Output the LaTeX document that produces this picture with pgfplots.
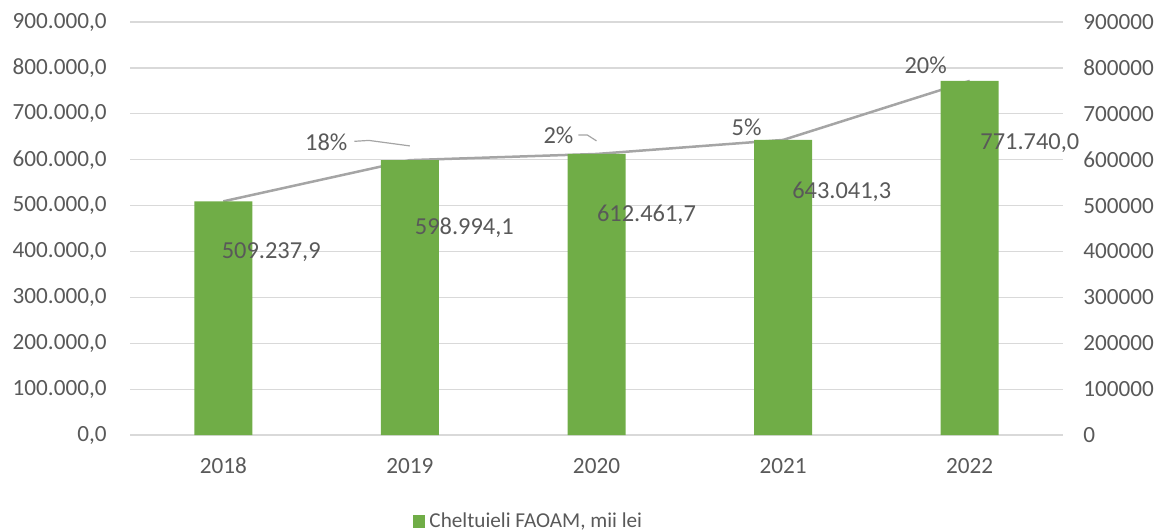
\documentclass[border=0pt]{standalone}
\usepackage{pgfplots}
\pgfplotsset{compat=1.18}
\usepackage{fontspec}
\setmainfont{Carlito}
\definecolor{barGreen}{HTML}{70AD47}
\definecolor{lineGray}{HTML}{A5A5A5}
\definecolor{txtGray}{HTML}{595959}
\definecolor{gridGray}{HTML}{D9D9D9}
\begin{document}
\begin{tikzpicture}
\useasboundingbox (-65pt,-47.5pt) rectangle (515pt,217.5pt);
\pgfplotsset{
  common/.style={
    width=466.5pt, height=206.5pt, scale only axis,
    at={(0,0)}, anchor=south west,
    xmin=-0.5, xmax=4.5, ymin=0, ymax=900000,
    ytick={0,100000,...,900000},
    scaled y ticks=false,
    major tick length=0pt,
    tick label style={font=\fontsize{11.6}{14}\selectfont, text=txtGray},
    clip=false,
  }
}
\begin{axis}[common,
  axis line style={draw=none},
  ymajorgrids, grid style={color=gridGray, line width=0.6pt},
  xtick={0,1,2,3,4},
  xticklabels={2018,2019,2020,2021,2022},
  xticklabel style={yshift=-8pt},
  yticklabels={{0,0},{100.000,0},{200.000,0},{300.000,0},{400.000,0},{500.000,0},{600.000,0},{700.000,0},{800.000,0},{900.000,0}},
  yticklabel style={inner sep=0pt, xshift=-11.5pt, anchor=east},
  legend style={at={(0.303,-0.21)}, anchor=west, draw=none, fill=none,
    font=\fontsize{10.6}{13}\selectfont, text=txtGray, inner sep=0pt},
  legend image code/.code={\fill[barGreen] (0pt,-3.2pt) rectangle (6.2pt,3.2pt);},
]
\addplot[color=lineGray, line width=1.25pt, forget plot] coordinates {(0,509237.9) (1,598994.1) (2,612461.7) (3,643041.3) (4,771740.0)};
\addplot[ybar, bar width=29pt, fill=barGreen, draw=none] coordinates {(0,509237.9) (1,598994.1) (2,612461.7) (3,643041.3) (4,771740.0)};
\addlegendentry{Cheltuieli FAOAM, mii lei}
% value labels
\begin{scope}[every node/.style={font=\fontsize{12.2}{14}\selectfont, text=txtGray, inner sep=0pt}]
\node at (axis cs:0.257,398800) {509.237,9};
\node at (axis cs:1.292,451000) {598.994,1};
\node at (axis cs:2.268,479400) {612.461,7};
\node at (axis cs:3.314,529500) {643.041,3};
\node at (axis cs:4.322,636300) {771.740,0};
\node at (axis cs:0.552,638500) {18\%};
\node at (axis cs:1.796,653800) {2\%};
\node at (axis cs:2.804,671000) {5\%};
\node at (axis cs:3.764,806000) {20\%};
\end{scope}
\draw[lineGray, line width=0.6pt] (axis cs:0.702,640000) -- (axis cs:0.78,642000) -- (axis cs:1.0,630000);
\draw[lineGray, line width=0.6pt] (axis cs:1.903,653800) -- (axis cs:1.95,654000) -- (axis cs:2.0,641000);
\end{axis}
\begin{axis}[common,
  axis line style={draw=none},
  axis y line*=right,
  axis x line=none,
  xtick=\empty,
  yticklabels={0,100000,200000,300000,400000,500000,600000,700000,800000,900000},
  yticklabel style={inner sep=0pt, xshift=10pt, anchor=west},
]
\addplot[draw=none] coordinates {(0,0)};
\end{axis}
\end{tikzpicture}
\end{document}
